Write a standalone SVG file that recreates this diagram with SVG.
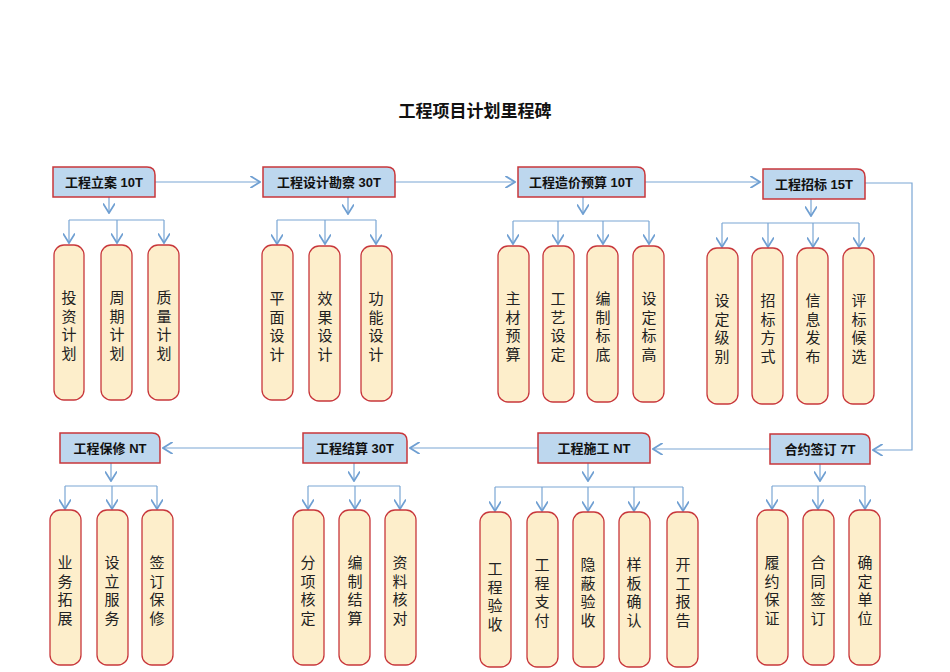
<svg xmlns="http://www.w3.org/2000/svg" width="950" height="672" viewBox="0 0 950 672">
<defs>
<marker id="ar" markerWidth="12" markerHeight="12" refX="9" refY="5" orient="auto" markerUnits="userSpaceOnUse" viewBox="0 0 10 10"><path d="M1,0 L9,5 L1,10" fill="none" stroke="#6f9fd2" stroke-width="1.5"/></marker>
<style>
.h{fill:#bdd7ee;stroke:#c8373b;stroke-width:1.5}
.l{fill:#fdeecb;stroke:#c8373b;stroke-width:1.3}
.ht{font-family:"Liberation Sans","Noto Sans CJK SC",sans-serif;font-size:13px;font-weight:bold;fill:#111;text-anchor:middle}
.lt{font-family:"Noto Sans CJK SC",sans-serif;font-size:15px;fill:#222;text-anchor:middle}
.c{fill:none;stroke:#7aa6d4;stroke-width:1.2}
.c2{fill:none;stroke:#7aa6d4;stroke-width:1.2;marker-end:url(#ar)}
</style>
</defs>
<rect width="950" height="672" fill="#fff"/>
<text x="475" y="117" class="ht" style="font-size:17px">工程项目计划里程碑</text>

<g id="connectors">
<path class="c2" d="M155,182 H260"/>
<path class="c2" d="M395,182 H515"/>
<path class="c2" d="M645,182 H760"/>
<path class="c2" d="M865,183 H912 V450 H873"/>
<path class="c2" d="M770,449 H653"/>
<path class="c2" d="M538,448 H410"/>
<path class="c2" d="M303,448 H163"/>
<path class="c2" d="M109,197 V213"/>
<path class="c" d="M69,220 H164"/>
<path class="c2" d="M69,220 V243"/><path class="c2" d="M117,220 V243"/><path class="c2" d="M164,220 V243"/>
<path class="c2" d="M348,197 V214"/>
<path class="c" d="M277,220 H376"/>
<path class="c2" d="M277,220 V244"/><path class="c2" d="M325,220 V244"/><path class="c2" d="M376,220 V244"/>
<path class="c2" d="M583,197 V214"/>
<path class="c" d="M513,221 H649"/>
<path class="c2" d="M513,221 V244"/><path class="c2" d="M558,221 V244"/><path class="c2" d="M603,221 V244"/><path class="c2" d="M649,221 V244"/>
<path class="c2" d="M811,199 V216"/>
<path class="c" d="M722,223 H859"/>
<path class="c2" d="M722,223 V247"/><path class="c2" d="M768,223 V247"/><path class="c2" d="M813,223 V247"/><path class="c2" d="M859,223 V247"/>
<path class="c2" d="M111,463 V481"/>
<path class="c" d="M65,486 H157"/>
<path class="c2" d="M65,486 V509"/><path class="c2" d="M112,486 V509"/><path class="c2" d="M157,486 V509"/>
<path class="c2" d="M354,463 V481"/>
<path class="c" d="M308,486 H400"/>
<path class="c2" d="M308,486 V509"/><path class="c2" d="M355,486 V509"/><path class="c2" d="M400,486 V509"/>
<path class="c2" d="M588,463 V481"/>
<path class="c" d="M495,487 H683"/>
<path class="c2" d="M495,487 V511"/><path class="c2" d="M542,487 V511"/><path class="c2" d="M588,487 V511"/><path class="c2" d="M634,487 V511"/><path class="c2" d="M683,487 V511"/>
<path class="c2" d="M820,464 V481"/>
<path class="c" d="M772,486 H865"/>
<path class="c2" d="M772,486 V509"/><path class="c2" d="M818,486 V509"/><path class="c2" d="M865,486 V509"/>
</g>

<g id="n-lixiang"><path class="h" d="M53,167 H147 Q155,167 155,175 V197 H53 Z"/><text class="ht" x="104" y="187">工程立案 10T</text></g>
<g id="n-sheji"><path class="h" d="M263,167 H387 Q395,167 395,175 V197 H263 Z"/><text class="ht" x="329" y="187">工程设计勘察 30T</text></g>
<g id="n-zaojia"><path class="h" d="M518,167 H637 Q645,167 645,175 V197 H518 Z"/><text class="ht" x="581" y="187">工程造价预算 10T</text></g>
<g id="n-zhaobiao"><path class="h" d="M763,169 H857 Q865,169 865,177 V199 H763 Z"/><text class="ht" x="814" y="189">工程招标 15T</text></g>
<g id="n-baoxiu"><path class="h" d="M60,433 H152 Q160,433 160,441 V463 H60 Z"/><text class="ht" x="110" y="453">工程保修 NT</text></g>
<g id="n-jiesuan"><path class="h" d="M303,433 H399 Q407,433 407,441 V463 H303 Z"/><text class="ht" x="355" y="453">工程结算 30T</text></g>
<g id="n-shigong"><path class="h" d="M538,433 H642 Q650,433 650,441 V463 H538 Z"/><text class="ht" x="594" y="453">工程施工 NT</text></g>
<g id="n-qianding"><path class="h" d="M770,434 H862 Q870,434 870,442 V464 H770 Z"/><text class="ht" x="820" y="454">合约签订 7T</text></g>

<g id="l1"><rect class="l" x="54" y="245" width="30" height="155" rx="10"/><text class="lt" x="69" y="303"><tspan x="69">投</tspan><tspan x="69" dy="18.5">资</tspan><tspan x="69" dy="18.5">计</tspan><tspan x="69" dy="18.5">划</tspan></text></g>
<g id="l2"><rect class="l" x="101" y="245" width="31" height="155" rx="10"/><text class="lt" x="117" y="303"><tspan x="117">周</tspan><tspan x="117" dy="18.5">期</tspan><tspan x="117" dy="18.5">计</tspan><tspan x="117" dy="18.5">划</tspan></text></g>
<g id="l3"><rect class="l" x="148" y="245" width="31" height="155" rx="10"/><text class="lt" x="164" y="303"><tspan x="164">质</tspan><tspan x="164" dy="18.5">量</tspan><tspan x="164" dy="18.5">计</tspan><tspan x="164" dy="18.5">划</tspan></text></g>
<g id="l4"><rect class="l" x="262" y="245" width="31" height="155" rx="10"/><text class="lt" x="277" y="304"><tspan x="277">平</tspan><tspan x="277" dy="18.5">面</tspan><tspan x="277" dy="18.5">设</tspan><tspan x="277" dy="18.5">计</tspan></text></g>
<g id="l5"><rect class="l" x="309" y="246" width="31" height="155" rx="10"/><text class="lt" x="325" y="304"><tspan x="325">效</tspan><tspan x="325" dy="18.5">果</tspan><tspan x="325" dy="18.5">设</tspan><tspan x="325" dy="18.5">计</tspan></text></g>
<g id="l6"><rect class="l" x="361" y="246" width="31" height="155" rx="10"/><text class="lt" x="376" y="304"><tspan x="376">功</tspan><tspan x="376" dy="18.5">能</tspan><tspan x="376" dy="18.5">设</tspan><tspan x="376" dy="18.5">计</tspan></text></g>
<g id="l7"><rect class="l" x="498" y="246" width="31" height="156" rx="10"/><text class="lt" x="513" y="304"><tspan x="513">主</tspan><tspan x="513" dy="18.5">材</tspan><tspan x="513" dy="18.5">预</tspan><tspan x="513" dy="18.5">算</tspan></text></g>
<g id="l8"><rect class="l" x="543" y="246" width="31" height="156" rx="10"/><text class="lt" x="558" y="304"><tspan x="558">工</tspan><tspan x="558" dy="18.5">艺</tspan><tspan x="558" dy="18.5">设</tspan><tspan x="558" dy="18.5">定</tspan></text></g>
<g id="l9"><rect class="l" x="587" y="246" width="31" height="156" rx="10"/><text class="lt" x="603" y="304"><tspan x="603">编</tspan><tspan x="603" dy="18.5">制</tspan><tspan x="603" dy="18.5">标</tspan><tspan x="603" dy="18.5">底</tspan></text></g>
<g id="l10"><rect class="l" x="633" y="246" width="31" height="156" rx="10"/><text class="lt" x="649" y="304"><tspan x="649">设</tspan><tspan x="649" dy="18.5">定</tspan><tspan x="649" dy="18.5">标</tspan><tspan x="649" dy="18.5">高</tspan></text></g>
<g id="l11"><rect class="l" x="707" y="248" width="31" height="156" rx="10"/><text class="lt" x="722" y="306"><tspan x="722">设</tspan><tspan x="722" dy="18.5">定</tspan><tspan x="722" dy="18.5">级</tspan><tspan x="722" dy="18.5">别</tspan></text></g>
<g id="l12"><rect class="l" x="752" y="248" width="31" height="156" rx="10"/><text class="lt" x="768" y="306"><tspan x="768">招</tspan><tspan x="768" dy="18.5">标</tspan><tspan x="768" dy="18.5">方</tspan><tspan x="768" dy="18.5">式</tspan></text></g>
<g id="l13"><rect class="l" x="797" y="248" width="31" height="156" rx="10"/><text class="lt" x="813" y="306"><tspan x="813">信</tspan><tspan x="813" dy="18.5">息</tspan><tspan x="813" dy="18.5">发</tspan><tspan x="813" dy="18.5">布</tspan></text></g>
<g id="l14"><rect class="l" x="843" y="248" width="31" height="156" rx="10"/><text class="lt" x="859" y="306"><tspan x="859">评</tspan><tspan x="859" dy="18.5">标</tspan><tspan x="859" dy="18.5">候</tspan><tspan x="859" dy="18.5">选</tspan></text></g>
<g id="l15"><rect class="l" x="50" y="510" width="31" height="155" rx="10"/><text class="lt" x="65" y="568"><tspan x="65">业</tspan><tspan x="65" dy="18.5">务</tspan><tspan x="65" dy="18.5">拓</tspan><tspan x="65" dy="18.5">展</tspan></text></g>
<g id="l16"><rect class="l" x="97" y="510" width="31" height="155" rx="10"/><text class="lt" x="112" y="568"><tspan x="112">设</tspan><tspan x="112" dy="18.5">立</tspan><tspan x="112" dy="18.5">服</tspan><tspan x="112" dy="18.5">务</tspan></text></g>
<g id="l17"><rect class="l" x="142" y="510" width="31" height="155" rx="10"/><text class="lt" x="157" y="568"><tspan x="157">签</tspan><tspan x="157" dy="18.5">订</tspan><tspan x="157" dy="18.5">保</tspan><tspan x="157" dy="18.5">修</tspan></text></g>
<g id="l18"><rect class="l" x="293" y="510" width="31" height="155" rx="10"/><text class="lt" x="308" y="568"><tspan x="308">分</tspan><tspan x="308" dy="18.5">项</tspan><tspan x="308" dy="18.5">核</tspan><tspan x="308" dy="18.5">定</tspan></text></g>
<g id="l19"><rect class="l" x="339" y="510" width="31" height="155" rx="10"/><text class="lt" x="355" y="568"><tspan x="355">编</tspan><tspan x="355" dy="18.5">制</tspan><tspan x="355" dy="18.5">结</tspan><tspan x="355" dy="18.5">算</tspan></text></g>
<g id="l20"><rect class="l" x="385" y="510" width="31" height="155" rx="10"/><text class="lt" x="400" y="568"><tspan x="400">资</tspan><tspan x="400" dy="18.5">料</tspan><tspan x="400" dy="18.5">核</tspan><tspan x="400" dy="18.5">对</tspan></text></g>
<g id="l21"><rect class="l" x="480" y="512" width="31" height="155" rx="10"/><text class="lt" x="495" y="574"><tspan x="495">工</tspan><tspan x="495" dy="18.5">程</tspan><tspan x="495" dy="18.5">验</tspan><tspan x="495" dy="18.5">收</tspan></text></g>
<g id="l22"><rect class="l" x="527" y="512" width="31" height="155" rx="10"/><text class="lt" x="542" y="570"><tspan x="542">工</tspan><tspan x="542" dy="18.5">程</tspan><tspan x="542" dy="18.5">支</tspan><tspan x="542" dy="18.5">付</tspan></text></g>
<g id="l23"><rect class="l" x="573" y="512" width="31" height="155" rx="10"/><text class="lt" x="588" y="570"><tspan x="588">隐</tspan><tspan x="588" dy="18.5">蔽</tspan><tspan x="588" dy="18.5">验</tspan><tspan x="588" dy="18.5">收</tspan></text></g>
<g id="l24"><rect class="l" x="619" y="512" width="31" height="155" rx="10"/><text class="lt" x="634" y="570"><tspan x="634">样</tspan><tspan x="634" dy="18.5">板</tspan><tspan x="634" dy="18.5">确</tspan><tspan x="634" dy="18.5">认</tspan></text></g>
<g id="l25"><rect class="l" x="667" y="512" width="31" height="155" rx="10"/><text class="lt" x="683" y="570"><tspan x="683">开</tspan><tspan x="683" dy="18.5">工</tspan><tspan x="683" dy="18.5">报</tspan><tspan x="683" dy="18.5">告</tspan></text></g>
<g id="l26"><rect class="l" x="757" y="510" width="31" height="155" rx="10"/><text class="lt" x="772" y="568"><tspan x="772">履</tspan><tspan x="772" dy="18.5">约</tspan><tspan x="772" dy="18.5">保</tspan><tspan x="772" dy="18.5">证</tspan></text></g>
<g id="l27"><rect class="l" x="803" y="510" width="31" height="155" rx="10"/><text class="lt" x="818" y="568"><tspan x="818">合</tspan><tspan x="818" dy="18.5">同</tspan><tspan x="818" dy="18.5">签</tspan><tspan x="818" dy="18.5">订</tspan></text></g>
<g id="l28"><rect class="l" x="849" y="510" width="31" height="155" rx="10"/><text class="lt" x="865" y="568"><tspan x="865">确</tspan><tspan x="865" dy="18.5">定</tspan><tspan x="865" dy="18.5">单</tspan><tspan x="865" dy="18.5">位</tspan></text></g>
</svg>
